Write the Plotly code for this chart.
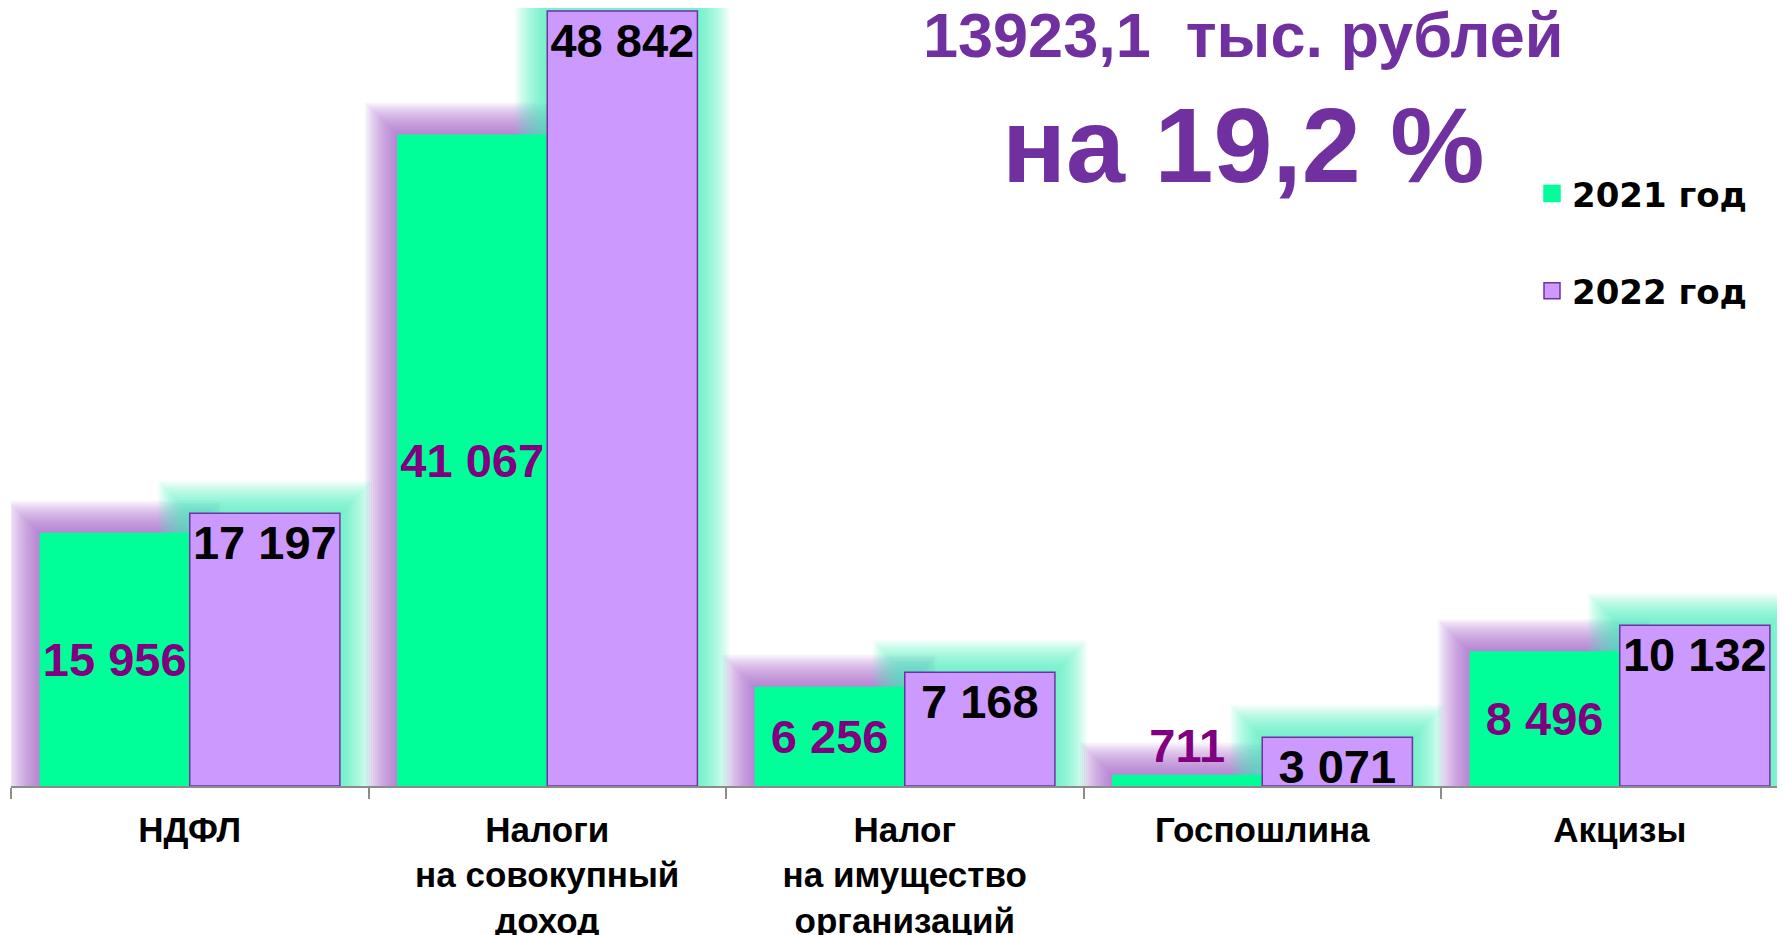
import plotly.graph_objects as go

# ---- data ----
categories = ["НДФЛ", "Налоги<br>на совокупный<br>доход", "Налог<br>на имущество<br>организаций",
              "Госпошлина", "Акцизы"]
series_names = ["2021 год", "2022 год"]
values_2021 = [15956, 41067, 6256, 711, 8496]
values_2022 = [17197, 48842, 7168, 3071, 10132]
title_line1 = "13923,1  тыс. рублей"
title_line2 = "на 19,2 %"

# ---- styling ----
W, H = 1785, 935
ML, MT, MB = 3, 0, 157          # figure sits 8px inside the page (body margin)
plot_w = W - ML
plot_h = H - MT - MB

GREEN = "#00FF99"
LILAC = "#CC99FF"
LILAC_EDGE = "#7030A0"
TITLE_COL = "#7030A0"
LABEL_PURPLE = "#800080"
AXIS_GREY = "#8C8C8C"
FONT = "Liberation Sans, Arial, sans-serif"

bar_w = 0.42
y_top = 49033
cat_px = 357.5

pos_2021 = ["inside", "inside", "inside", "outside", "inside"]

fig = go.Figure()

# soft glow underlays (purple glow around green bars, aqua glow around lilac bars)
glow_radii = list(range(32, 0, -2))
for vals, off, rgb in [(values_2021, -bar_w, "160,90,205"), (values_2022, 0.0, "70,235,185")]:
    for r in glow_radii:
        fig.add_trace(go.Bar(
            x=categories, y=vals, offset=off, width=bar_w,
            marker=dict(color="rgba(0,0,0,0)", line=dict(color=f"rgba({rgb},0.075)", width=2 * r)),
            hoverinfo="skip", showlegend=False,
        ))

fig.add_trace(go.Bar(
    x=categories, y=values_2021, name=series_names[0], offset=-bar_w, width=bar_w,
    marker=dict(color=GREEN, line=dict(width=0)),
    texttemplate="%{y:,}", textposition=pos_2021, insidetextanchor="middle",
    textangle=0, constraintext="none",
    textfont=dict(family=FONT, size=47, color=LABEL_PURPLE, weight="bold"),
    showlegend=False,
))
fig.add_trace(go.Bar(
    x=categories, y=values_2022, name=series_names[1], offset=0.0, width=bar_w,
    marker=dict(color=LILAC, line=dict(color=LILAC_EDGE, width=1.5)),
    texttemplate="%{y:,}", textposition="inside", insidetextanchor="end",
    textangle=0, constraintext="none",
    textfont=dict(family=FONT, size=47, color="black", weight="bold"),
    showlegend=False,
))

# legend entries
for name, col, edge, grp in [(series_names[0], GREEN, GREEN, "a"), (series_names[1], LILAC, LILAC_EDGE, "b")]:
    fig.add_trace(go.Scatter(
        x=[None], y=[None], mode="markers", name=name, legendgroup=grp,
        marker=dict(symbol="square", size=16, color=col, line=dict(color=edge, width=1.5)),
    ))

def fx(px):   # figure pixel -> paper x
    return (px - ML) / plot_w

def fy(py):   # figure pixel -> paper y
    return 1 - (py - MT) / plot_h

fig.add_annotation(text=title_line1, x=fx(1235), y=fy(-10), xref="paper", yref="paper",
                   xanchor="center", yanchor="top", showarrow=False,
                   font=dict(family=FONT, size=63, color=TITLE_COL, weight="bold"))
fig.add_annotation(text=title_line2, x=fx(1235), y=fy(76), xref="paper", yref="paper",
                   xanchor="center", yanchor="top", showarrow=False,
                   font=dict(family=FONT, size=106, color=TITLE_COL, weight="bold"))

fig.update_layout(
    width=W, height=H,
    margin=dict(l=ML, r=0, t=MT, b=MB, pad=0, autoexpand=False),
    barmode="overlay",
    separators=", ",
    plot_bgcolor="white", paper_bgcolor="white",
    legend=dict(x=fx(1524), y=fy(157), xanchor="left", yanchor="top",
                font=dict(family="DejaVu Sans, sans-serif", size=34, color="black", weight="bold"),
                tracegroupgap=50, bgcolor="rgba(0,0,0,0)"),
    xaxis=dict(type="category", range=[-0.5, -0.5 + plot_w / cat_px], tickson="boundaries",
               ticks="outside", ticklen=11, tickwidth=1.5, tickcolor=AXIS_GREY,
               showline=True, linecolor=AXIS_GREY, linewidth=1.5, showgrid=False,
               ticklabelstandoff=12, automargin=False,
               tickfont=dict(family=FONT, size=35, color="black", weight="bold")),
    yaxis=dict(range=[0, y_top], visible=False, showgrid=False, zeroline=False, automargin=False),
)

fig.write_html("out.html")
